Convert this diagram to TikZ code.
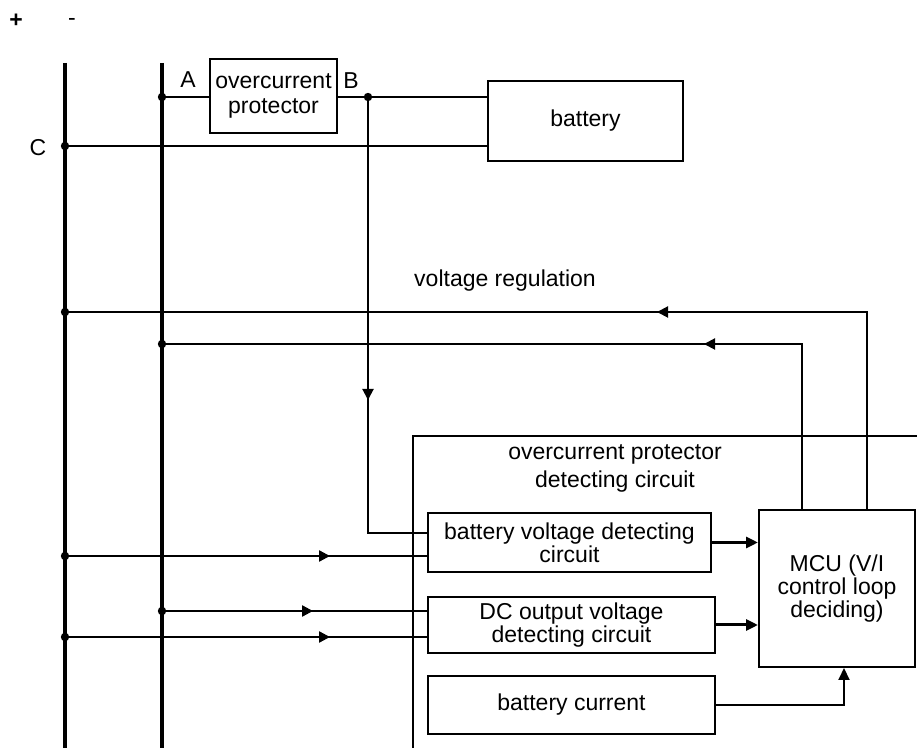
\documentclass[tikz,border=0pt]{standalone}
\usepackage{fontspec}
\setmainfont{Liberation Sans}
\usetikzlibrary{arrows.meta,decorations.markings,calc}
\begin{document}
\begin{tikzpicture}[x=0.5pt,y=-0.5pt,
  box/.style={draw,line width=1pt,inner sep=0pt,align=center,font=\fontsize{11.5}{11.3}\selectfont},
  lbl/.style={inner sep=0pt,font=\fontsize{11.5}{11.5}\selectfont},
  bus/.style={line width=1.9pt},
  wire/.style={line width=1pt},
  feed/.style={line width=1.2pt},
  midarr/.style={postaction={decorate},decoration={markings,mark=at position #1 with {\arrow{Triangle[length=5.5pt,width=5.5pt]}}}},
  endarr/.style={-{Triangle[length=6pt,width=5.5pt]}}
]
\useasboundingbox (0,0) rectangle (917,748);

% buses
\coordinate (pT) at (65,63); \coordinate (pB) at (65,760);
\coordinate (mT) at (162,63); \coordinate (mB) at (162,760);

% boxes
\node[box,minimum width=63.5pt,minimum height=37pt,font=\fontsize{11.5}{12.5}\selectfont] (ocp) at (273.5,96) {overcurrent\\protector};
\node[box,minimum width=97.5pt,minimum height=40pt] (bat) at (585.5,121) {battery};
\node[box,minimum width=141.5pt,minimum height=29.5pt] (bvd) at (569.5,542.5) {battery voltage detecting\\circuit};
\node[box,minimum width=143.5pt,minimum height=28pt] (dcv) at (571.5,625) {DC output voltage\\detecting circuit};
\node[box,minimum width=143.5pt,minimum height=29pt] (bc) at (571.5,705) {battery current};
\node[box,minimum width=78pt,minimum height=78.5pt] (mcu) at (837,588.5) {MCU (V/I\\control loop\\deciding)};

% labels
\node[lbl,font=\bfseries\fontsize{11.5}{11.5}\selectfont] (plus) at (16,21) {+};
\node[lbl] (minus) at (72,22) {-};
\node[lbl] (A) at (188,80) {A};
\node[lbl] (B) at (351,81) {B};
\node[lbl] (C) at (38,148) {C};
\node[lbl] (vr) at (505,281) {voltage regulation};
\node[lbl,align=center,font=\fontsize{11.5}{14}\selectfont] (ocpd) at (615,468) {overcurrent protector\\detecting circuit};

% junctions and turn points
\coordinate (jA) at (162,97); \coordinate (jB) at (368,97); \coordinate (jC) at (65,146);
\coordinate (jV1) at (65,312); \coordinate (jV2) at (162,344);
\coordinate (j1) at (65,556); \coordinate (j2) at (162,611); \coordinate (j3) at (65,637);
\coordinate (tB) at (368,533);
\coordinate (t1) at (867,312); \coordinate (t2) at (802,344);
\coordinate (t3) at (844,705);

% detecting circuit frame (open to right and bottom)
\draw[line width=0.8pt] (413,760) -- (413,436) -- (930,436);

% buses
\draw[bus] (pT) -- (pB);
\draw[bus] (mT) -- (mB);

% wires
\draw[wire] (jA) -- (jA -| ocp.west);
\draw[wire] (jB -| ocp.east) -- (jB -| bat.west);
\draw[wire] (jC) -- (jC -| bat.west);
\draw[wire,midarr=151.5pt] (jB) -- (tB) -- (tB -| bvd.west);
\draw[wire,midarr=203.5pt] (mcu.north -| t1) -- (t1) -- (jV1);
\draw[wire,midarr=131.5pt] (mcu.north -| t2) -- (t2) -- (jV2);
\draw[feed,midarr=132.5pt] (j1) -- (j1 -| bvd.west);
\draw[feed,midarr=75.5pt] (j2) -- (j2 -| dcv.west);
\draw[feed,midarr=132.5pt] (j3) -- (j3 -| dcv.west);
\draw[line width=1.5pt,endarr] (bvd.east) -- (bvd.east -| mcu.west);
\draw[line width=1.5pt,endarr] (dcv.east) -- (dcv.east -| mcu.west);
\draw[wire,endarr] (bc.east) -- (t3) -- (mcu.south -| t3);

% dots
\foreach \p in {jA,jB,jC,jV1,jV2,j1,j2,j3} \fill (\p) circle (2.1pt);
\end{tikzpicture}
\end{document}
